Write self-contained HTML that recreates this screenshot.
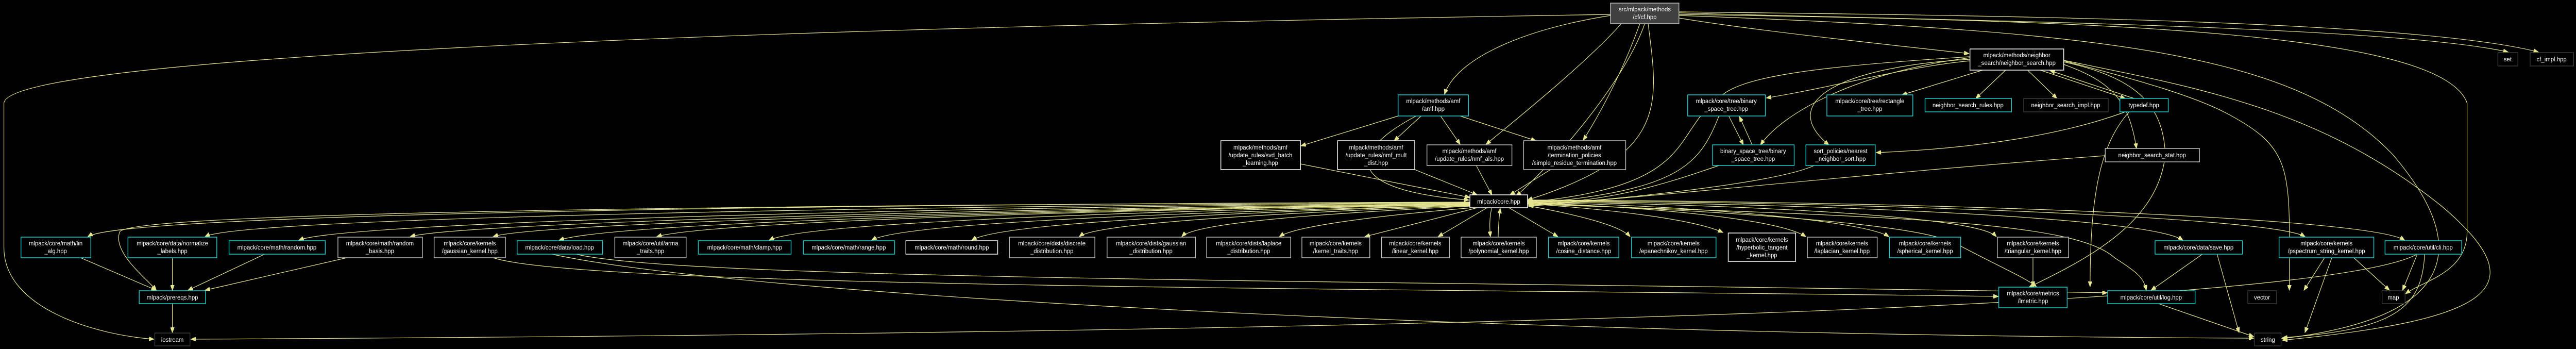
<!DOCTYPE html>
<html><head><meta charset="utf-8"><style>
html,body{margin:0;padding:0;background:#000;width:100%;height:100%;overflow:hidden}
svg{display:block;position:absolute;left:0;top:0;width:100vw;height:100vh;overflow:hidden}
text{font-family:"Liberation Sans",sans-serif;font-size:12px;fill:#fff;text-anchor:middle}
.e{fill:none;stroke:#e6e68f;stroke-width:1.2}
.n{fill:#000;stroke-width:1.5}
.c{stroke:#1ecbcb}.g{stroke:#bdbdbd}.w{stroke:#fff}.d{stroke:#3a3a3a}
</style></head><body>
<svg viewBox="0 0 5275 677" preserveAspectRatio="none" xmlns="http://www.w3.org/2000/svg">
<defs><marker id="a" markerUnits="userSpaceOnUse" markerWidth="11" markerHeight="8" refX="10" refY="4" orient="auto"><path d="M0,0 L10,4 L0,8 z" fill="#e6e68f" stroke="#e6e68f"/></marker></defs>
<g class="e" marker-end="url(#a)">
<path d="M3298,28 C1200,60 15,120 8,200 L8,480 C8,600 200,650 315,658"/>
<path d="M3298,30 C3100,60 2980,120 2958,183"/>
<path d="M3320,46 C3250,120 3120,220 3043,280"/>
<path d="M3358,46 C3330,120 3290,200 3242,272"/>
<path d="M3368,46 C3330,150 3200,300 3105,380"/>
<path d="M3375,46 C3395,200 3420,300 3128,388"/>
<path d="M3438,35 C3600,60 3850,85 4032,104"/>
<path d="M3438,25 C4000,40 4900,50 5136,101"/>
<path d="M3438,23 C4100,30 4950,40 5198,101"/>
<path d="M3438,28 C4300,40 5000,60 5052,200 L5052,450 C5052,530 4960,545 4926,570"/>
<path d="M3438,30 C4300,60 4700,100 4900,300 C5080,500 5000,620 4672,657"/>
<path d="M2900,225 C2750,300 2760,370 3008,388"/>
<path d="M2863,225 L2664,283"/>
<path d="M2910,225 L2855,273"/>
<path d="M2950,225 L2990,280"/>
<path d="M2990,225 L3145,273"/>
<path d="M2663,318 L3010,383"/>
<path d="M2897,329 L3025,378"/>
<path d="M3023,321 L3055,378"/>
<path d="M3175,329 L3092,378"/>
<path d="M4034,110 C3700,130 3560,150 3520,190 C3420,260 3480,360 3130,392"/>
<path d="M4034,118 C3900,130 3750,170 3617,190"/>
<path d="M4060,136 L3895,184"/>
<path d="M4107,136 L4046,191"/>
<path d="M4152,136 L4212,191"/>
<path d="M4178,136 L4352,191"/>
<path d="M4370,191 L4198,137"/>
<path d="M4034,112 C3800,140 3650,220 3605,281"/>
<path d="M4034,115 C3760,130 3640,200 3745,281"/>
<path d="M4226,125 C4330,160 4360,200 4375,288"/>
<path d="M4226,120 C4370,150 4430,200 4434,300 C4420,430 4280,500 4155,557"/>
<path d="M4226,118 C4400,160 4500,190 4560,220 C4700,290 4688,330 4688,563"/>
<path d="M4226,117 C4500,170 4750,210 5000,400 C5200,560 5100,620 4674,660"/>
<path d="M4352,217 C4200,270 4000,290 3842,296"/>
<path d="M4360,217 C4300,280 4280,380 4280,556"/>
<path d="M3540,225 L3570,281"/>
<path d="M3588,281 L3562,226"/>
<path d="M3520,225 C3480,320 3440,370 3130,395"/>
<path d="M3520,321 C3400,360 3300,390 3130,397"/>
<path d="M3715,321 C3650,350 3400,380 3130,399"/>
<path d="M4311,302 C3900,330 3400,380 3130,400"/>
<path d="M3010,392 C2000,395 260,410 180,459"/>
<path d="M3010,393 C2000,398 500,420 420,459"/>
<path d="M3010,394 C2000,400 700,430 612,466"/>
<path d="M3010,395 C2200,402 950,430 840,459"/>
<path d="M3010,396 C2300,403 1100,430 1010,459"/>
<path d="M3010,396 C2300,405 1250,430 1145,466"/>
<path d="M3010,397 C2300,406 1450,430 1345,459"/>
<path d="M3010,397 C2400,408 1650,430 1575,466"/>
<path d="M3010,398 C2500,410 1850,430 1785,466"/>
<path d="M3010,398 C2600,410 2050,430 1990,466"/>
<path d="M3010,399 C2700,410 2250,430 2210,459"/>
<path d="M3010,400 C2750,412 2450,430 2420,459"/>
<path d="M3015,403 C2800,420 2650,440 2620,459"/>
<path d="M3025,403 L2795,459"/>
<path d="M3045,403 L2945,459"/>
<path d="M3055,403 C3050,420 3050,440 3052,459"/>
<path d="M3068,460 C3068,440 3070,420 3072,404"/>
<path d="M3090,403 L3190,459"/>
<path d="M3128,399 C3250,420 3320,440 3338,459"/>
<path d="M3128,395 C3350,410 3480,430 3528,451"/>
<path d="M3128,393 C3450,405 3650,430 3698,459"/>
<path d="M3128,392 C3500,400 3820,430 3868,459"/>
<path d="M3128,391 C3600,398 4050,420 4088,459"/>
<path d="M3128,390 C3700,395 4400,420 4470,466"/>
<path d="M3128,389 C3800,392 4650,420 4720,459"/>
<path d="M3128,388 C3900,390 4850,420 4924,466"/>
<path d="M3010,392 C1000,400 260,420 245,450 C230,490 300,540 320,563"/>
<path d="M3128,394 C3800,420 3950,450 4000,470 C4100,520 4150,540 4170,556"/>
<path d="M3128,396 C3900,420 4250,430 4330,500 C4380,530 4390,540 4395,563"/>
<path d="M165,500 L320,563"/>
<path d="M353,500 L353,563"/>
<path d="M542,493 L385,563"/>
<path d="M710,500 L420,563"/>
<path d="M353,589 L353,645"/>
<path d="M1010,500 C1200,560 3000,560 4092,575"/>
<path d="M1180,493 C1400,545 3000,545 4315,568"/>
<path d="M1130,493 C1500,570 3000,650 4615,656"/>
<path d="M4950,493 C4700,620 2000,650 391,658"/>
<path d="M4163,500 L4163,556"/>
<path d="M4510,493 L4405,563"/>
<path d="M4540,493 L4585,645"/>
<path d="M4760,500 L4718,563"/>
<path d="M4775,500 L4720,645"/>
<path d="M4820,500 L4893,563"/>
<path d="M4950,493 L4920,563"/>
<path d="M4965,493 C4960,600 4900,640 4674,655"/>
<path d="M4420,589 L4615,653"/>
</g>
<g>
<rect class="n g" x="3298" y="6" width="140" height="40" style="fill:#404040"/><text x="3368" y="22">src/mlpack/methods</text><text x="3368" y="37">/cf/cf.hpp</text>
<rect class="n c" x="2863" y="184" width="144" height="41"/><text x="2935" y="200">mlpack/methods/amf</text><text x="2935" y="215">/amf.hpp</text>
<rect class="n w" x="2500" y="273" width="163" height="56"/><text x="2581" y="290">mlpack/methods/amf</text><text x="2581" y="305">/update_rules/svd_batch</text><text x="2581" y="320">_learning.hpp</text>
<rect class="n w" x="2739" y="273" width="158" height="56"/><text x="2818" y="290">mlpack/methods/amf</text><text x="2818" y="305">/update_rules/nmf_mult</text><text x="2818" y="320">_dist.hpp</text>
<rect class="n g" x="2922" y="281" width="174" height="40"/><text x="3009" y="297">mlpack/methods/amf</text><text x="3009" y="312">/update_rules/nmf_als.hpp</text>
<rect class="n g" x="3120" y="273" width="209" height="56"/><text x="3224" y="290">mlpack/methods/amf</text><text x="3224" y="305">/termination_policies</text><text x="3224" y="320">/simple_residue_termination.hpp</text>
<rect class="n w" x="3010" y="378" width="118" height="25"/><text x="3069" y="395">mlpack/core.hpp</text>
<rect class="n w" x="4034" y="95" width="192" height="41"/><text x="4130" y="111">mlpack/methods/neighbor</text><text x="4130" y="126">_search/neighbor_search.hpp</text>
<rect class="n c" x="3456" y="184" width="159" height="41"/><text x="3535" y="200">mlpack/core/tree/binary</text><text x="3535" y="215">_space_tree.hpp</text>
<rect class="n c" x="3741" y="184" width="176" height="41"/><text x="3829" y="200">mlpack/core/tree/rectangle</text><text x="3829" y="215">_tree.hpp</text>
<rect class="n c" x="3942" y="191" width="177" height="26"/><text x="4030" y="208">neighbor_search_rules.hpp</text>
<rect class="n d" x="4144" y="191" width="173" height="26"/><text x="4230" y="208">neighbor_search_impl.hpp</text>
<rect class="n c" x="4341" y="191" width="99" height="26"/><text x="4390" y="208">typedef.hpp</text>
<rect class="n c" x="3507" y="281" width="167" height="40"/><text x="3590" y="297">binary_space_tree/binary</text><text x="3590" y="312">_space_tree.hpp</text>
<rect class="n c" x="3698" y="281" width="142" height="40"/><text x="3769" y="297">sort_policies/nearest</text><text x="3769" y="312">_neighbor_sort.hpp</text>
<rect class="n g" x="4311" y="288" width="193" height="26"/><text x="4407" y="305">neighbor_search_stat.hpp</text>
<rect class="n d" x="5115" y="102" width="41" height="26"/><text x="5135" y="119">set</text>
<rect class="n d" x="5181" y="102" width="89" height="26"/><text x="5225" y="119">cf_impl.hpp</text>
<rect class="n c" x="43" y="460" width="143" height="40"/><text x="114" y="476">mlpack/core/math/lin</text><text x="114" y="491">_alg.hpp</text>
<rect class="n c" x="262" y="460" width="182" height="40"/><text x="353" y="476">mlpack/core/data/normalize</text><text x="353" y="491">_labels.hpp</text>
<rect class="n c" x="469" y="467" width="197" height="26"/><text x="567" y="484">mlpack/core/math/random.hpp</text>
<rect class="n g" x="692" y="460" width="173" height="40"/><text x="778" y="476">mlpack/core/math/random</text><text x="778" y="491">_basis.hpp</text>
<rect class="n g" x="889" y="460" width="146" height="40"/><text x="962" y="476">mlpack/core/kernels</text><text x="962" y="491">/gaussian_kernel.hpp</text>
<rect class="n c" x="1059" y="467" width="175" height="26"/><text x="1146" y="484">mlpack/core/data/load.hpp</text>
<rect class="n g" x="1259" y="460" width="146" height="40"/><text x="1332" y="476">mlpack/core/util/arma</text><text x="1332" y="491">_traits.hpp</text>
<rect class="n c" x="1430" y="467" width="190" height="26"/><text x="1525" y="484">mlpack/core/math/clamp.hpp</text>
<rect class="n c" x="1645" y="467" width="187" height="26"/><text x="1738" y="484">mlpack/core/math/range.hpp</text>
<rect class="n w" x="1855" y="467" width="188" height="26"/><text x="1949" y="484">mlpack/core/math/round.hpp</text>
<rect class="n g" x="2067" y="460" width="175" height="40"/><text x="2154" y="476">mlpack/core/dists/discrete</text><text x="2154" y="491">_distribution.hpp</text>
<rect class="n g" x="2267" y="460" width="181" height="40"/><text x="2357" y="476">mlpack/core/dists/gaussian</text><text x="2357" y="491">_distribution.hpp</text>
<rect class="n g" x="2471" y="460" width="172" height="40"/><text x="2557" y="476">mlpack/core/dists/laplace</text><text x="2557" y="491">_distribution.hpp</text>
<rect class="n g" x="2666" y="460" width="139" height="40"/><text x="2735" y="476">mlpack/core/kernels</text><text x="2735" y="491">/kernel_traits.hpp</text>
<rect class="n g" x="2829" y="460" width="139" height="40"/><text x="2898" y="476">mlpack/core/kernels</text><text x="2898" y="491">/linear_kernel.hpp</text>
<rect class="n g" x="2992" y="460" width="154" height="40"/><text x="3069" y="476">mlpack/core/kernels</text><text x="3069" y="491">/polynomial_kernel.hpp</text>
<rect class="n c" x="3171" y="460" width="144" height="40"/><text x="3243" y="476">mlpack/core/kernels</text><text x="3243" y="491">/cosine_distance.hpp</text>
<rect class="n c" x="3341" y="460" width="173" height="40"/><text x="3427" y="476">mlpack/core/kernels</text><text x="3427" y="491">/epanechnikov_kernel.hpp</text>
<rect class="n w" x="3539" y="452" width="138" height="55"/><text x="3608" y="469">mlpack/core/kernels</text><text x="3608" y="484">/hyperbolic_tangent</text><text x="3608" y="499">_kernel.hpp</text>
<rect class="n g" x="3701" y="460" width="143" height="40"/><text x="3772" y="476">mlpack/core/kernels</text><text x="3772" y="491">/laplacian_kernel.hpp</text>
<rect class="n c" x="3869" y="460" width="146" height="40"/><text x="3942" y="476">mlpack/core/kernels</text><text x="3942" y="491">/spherical_kernel.hpp</text>
<rect class="n g" x="4090" y="460" width="146" height="40"/><text x="4163" y="476">mlpack/core/kernels</text><text x="4163" y="491">/triangular_kernel.hpp</text>
<rect class="n c" x="4413" y="467" width="179" height="26"/><text x="4502" y="484">mlpack/core/data/save.hpp</text>
<rect class="n c" x="4667" y="460" width="194" height="40"/><text x="4764" y="476">mlpack/core/kernels</text><text x="4764" y="491">/pspectrum_string_kernel.hpp</text>
<rect class="n c" x="4884" y="467" width="157" height="26"/><text x="4962" y="484">mlpack/core/util/cli.hpp</text>
<rect class="n c" x="285" y="564" width="136" height="25"/><text x="353" y="581">mlpack/prereqs.hpp</text>
<rect class="n c" x="4093" y="557" width="140" height="40"/><text x="4163" y="573">mlpack/core/metrics</text><text x="4163" y="588">/lmetric.hpp</text>
<rect class="n c" x="4316" y="564" width="179" height="25"/><text x="4405" y="581">mlpack/core/util/log.hpp</text>
<rect class="n d" x="4603" y="564" width="59" height="25"/><text x="4632" y="581">vector</text>
<rect class="n d" x="4878" y="564" width="47" height="25"/><text x="4901" y="581">map</text>
<rect class="n d" x="317" y="646" width="72" height="25"/><text x="353" y="663">iostream</text>
<rect class="n d" x="4617" y="646" width="54" height="25"/><text x="4644" y="663">string</text>
</g>
</svg>
</body></html>
